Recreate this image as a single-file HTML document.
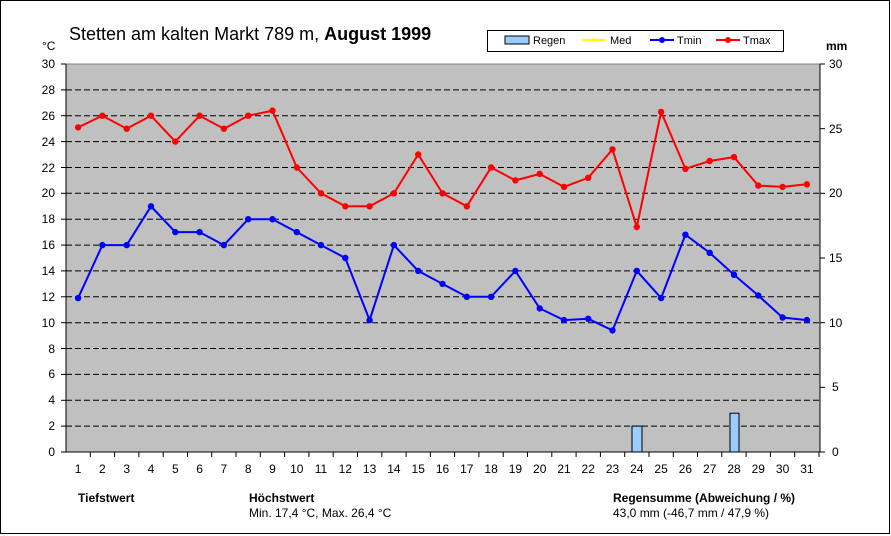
<!DOCTYPE html>
<html><head><meta charset="utf-8"><style>
body{margin:0;background:#fff}
svg{display:block;font-family:"Liberation Sans",Arial,sans-serif}
</style></head><body>
<svg width="891" height="536" viewBox="0 0 891 536" xmlns="http://www.w3.org/2000/svg">
<rect x="0.5" y="0.5" width="889" height="533" fill="#fff" stroke="#000"/>
<rect x="66" y="64" width="754" height="388" fill="#c0c0c0" stroke="#808080"/>
<g stroke="#000" stroke-dasharray="6,3" stroke-width="1">
<line x1="66" x2="820" y1="89.9" y2="89.9"/><line x1="66" x2="820" y1="115.7" y2="115.7"/>
<line x1="66" x2="820" y1="141.6" y2="141.6"/><line x1="66" x2="820" y1="167.5" y2="167.5"/>
<line x1="66" x2="820" y1="193.3" y2="193.3"/><line x1="66" x2="820" y1="219.2" y2="219.2"/>
<line x1="66" x2="820" y1="245.1" y2="245.1"/><line x1="66" x2="820" y1="270.9" y2="270.9"/>
<line x1="66" x2="820" y1="296.8" y2="296.8"/><line x1="66" x2="820" y1="322.7" y2="322.7"/>
<line x1="66" x2="820" y1="348.5" y2="348.5"/><line x1="66" x2="820" y1="374.4" y2="374.4"/>
<line x1="66" x2="820" y1="400.3" y2="400.3"/><line x1="66" x2="820" y1="426.1" y2="426.1"/>
</g>
<g stroke="#000"><line x1="66" y1="64" x2="66" y2="452"/><line x1="820" y1="64" x2="820" y2="452"/><line x1="66" y1="452" x2="820" y2="452"/></g>
<g stroke="#000">
<line x1="61" x2="66" y1="64" y2="64"/><line x1="61" x2="66" y1="89.9" y2="89.9"/><line x1="61" x2="66" y1="115.7" y2="115.7"/><line x1="61" x2="66" y1="141.6" y2="141.6"/><line x1="61" x2="66" y1="167.5" y2="167.5"/><line x1="61" x2="66" y1="193.3" y2="193.3"/><line x1="61" x2="66" y1="219.2" y2="219.2"/><line x1="61" x2="66" y1="245.1" y2="245.1"/><line x1="61" x2="66" y1="270.9" y2="270.9"/><line x1="61" x2="66" y1="296.8" y2="296.8"/><line x1="61" x2="66" y1="322.7" y2="322.7"/><line x1="61" x2="66" y1="348.5" y2="348.5"/><line x1="61" x2="66" y1="374.4" y2="374.4"/><line x1="61" x2="66" y1="400.3" y2="400.3"/><line x1="61" x2="66" y1="426.1" y2="426.1"/><line x1="61" x2="66" y1="452" y2="452"/>
<line x1="820" x2="825" y1="64" y2="64"/><line x1="820" x2="825" y1="128.7" y2="128.7"/><line x1="820" x2="825" y1="193.3" y2="193.3"/><line x1="820" x2="825" y1="258" y2="258"/><line x1="820" x2="825" y1="322.7" y2="322.7"/><line x1="820" x2="825" y1="387.3" y2="387.3"/><line x1="820" x2="825" y1="452" y2="452"/>
</g>
<g stroke="#000">
<line x1="90.3" x2="90.3" y1="452" y2="457"/><line x1="114.6" x2="114.6" y1="452" y2="457"/><line x1="138.9" x2="138.9" y1="452" y2="457"/><line x1="163.2" x2="163.2" y1="452" y2="457"/><line x1="187.5" x2="187.5" y1="452" y2="457"/><line x1="211.7" x2="211.7" y1="452" y2="457"/><line x1="236" x2="236" y1="452" y2="457"/><line x1="260.3" x2="260.3" y1="452" y2="457"/><line x1="284.6" x2="284.6" y1="452" y2="457"/><line x1="308.9" x2="308.9" y1="452" y2="457"/><line x1="333.2" x2="333.2" y1="452" y2="457"/><line x1="357.5" x2="357.5" y1="452" y2="457"/><line x1="381.8" x2="381.8" y1="452" y2="457"/><line x1="406.1" x2="406.1" y1="452" y2="457"/><line x1="430.4" x2="430.4" y1="452" y2="457"/><line x1="454.6" x2="454.6" y1="452" y2="457"/><line x1="478.9" x2="478.9" y1="452" y2="457"/><line x1="503.2" x2="503.2" y1="452" y2="457"/><line x1="527.5" x2="527.5" y1="452" y2="457"/><line x1="551.8" x2="551.8" y1="452" y2="457"/><line x1="576.1" x2="576.1" y1="452" y2="457"/><line x1="600.4" x2="600.4" y1="452" y2="457"/><line x1="624.7" x2="624.7" y1="452" y2="457"/><line x1="649" x2="649" y1="452" y2="457"/><line x1="673.3" x2="673.3" y1="452" y2="457"/><line x1="697.5" x2="697.5" y1="452" y2="457"/><line x1="721.8" x2="721.8" y1="452" y2="457"/><line x1="746.1" x2="746.1" y1="452" y2="457"/><line x1="770.4" x2="770.4" y1="452" y2="457"/><line x1="794.7" x2="794.7" y1="452" y2="457"/><line x1="819" x2="819" y1="452" y2="457"/>
</g>
<rect x="632" y="426.1" width="10" height="25.9" fill="#99ccff" stroke="#000"/>
<rect x="730" y="413.2" width="9" height="38.8" fill="#99ccff" stroke="#000"/>
<g font-size="12" fill="#000" text-anchor="end">
<text x="55" y="68">30</text><text x="55" y="94">28</text><text x="55" y="120">26</text><text x="55" y="146">24</text><text x="55" y="172">22</text><text x="55" y="197">20</text><text x="55" y="223">18</text><text x="55" y="249">16</text><text x="55" y="275">14</text><text x="55" y="301">12</text><text x="55" y="327">10</text><text x="55" y="353">8</text><text x="55" y="378">6</text><text x="55" y="404">4</text><text x="55" y="430">2</text><text x="55" y="456">0</text>
</g>
<g font-size="12" fill="#000">
<text x="829" y="68">30</text><text x="829" y="133">25</text><text x="829" y="197">20</text><text x="829" y="262">15</text><text x="829" y="327">10</text><text x="832" y="391">5</text><text x="832" y="456">0</text>
</g>
<g font-size="12" fill="#000" text-anchor="middle">
<text x="78.1" y="473">1</text><text x="102.4" y="473">2</text><text x="126.7" y="473">3</text><text x="151" y="473">4</text><text x="175.3" y="473">5</text><text x="199.6" y="473">6</text><text x="223.9" y="473">7</text><text x="248.2" y="473">8</text><text x="272.5" y="473">9</text><text x="296.8" y="473">10</text><text x="321" y="473">11</text><text x="345.3" y="473">12</text><text x="369.6" y="473">13</text><text x="393.9" y="473">14</text><text x="418.2" y="473">15</text><text x="442.5" y="473">16</text><text x="466.8" y="473">17</text><text x="491.1" y="473">18</text><text x="515.4" y="473">19</text><text x="539.7" y="473">20</text><text x="564" y="473">21</text><text x="588.2" y="473">22</text><text x="612.5" y="473">23</text><text x="636.8" y="473">24</text><text x="661.1" y="473">25</text><text x="685.4" y="473">26</text><text x="709.7" y="473">27</text><text x="734" y="473">28</text><text x="758.3" y="473">29</text><text x="782.6" y="473">30</text><text x="806.9" y="473">31</text>
</g>
<polyline fill="none" stroke="#ff0000" stroke-width="2" points="78.1,127.4 102.4,115.7 126.7,128.7 151,115.7 175.3,141.6 199.6,115.7 223.9,128.7 248.2,115.7 272.5,110.6 296.8,167.5 321,193.3 345.3,206.3 369.6,206.3 393.9,193.3 418.2,154.5 442.5,193.3 466.8,206.3 491.1,167.5 515.4,180.4 539.7,173.9 564,186.9 588.2,177.8 612.5,149.4 636.8,227 661.1,111.9 685.4,168.8 709.7,161 734,157.1 758.3,185.6 782.6,186.9 806.9,184.3"/>
<g fill="#ff0000">
<circle cx="78.1" cy="127.4" r="3.2"/><circle cx="102.4" cy="115.7" r="3.2"/><circle cx="126.7" cy="128.7" r="3.2"/><circle cx="151" cy="115.7" r="3.2"/><circle cx="175.3" cy="141.6" r="3.2"/><circle cx="199.6" cy="115.7" r="3.2"/><circle cx="223.9" cy="128.7" r="3.2"/><circle cx="248.2" cy="115.7" r="3.2"/><circle cx="272.5" cy="110.6" r="3.2"/><circle cx="296.8" cy="167.5" r="3.2"/><circle cx="321" cy="193.3" r="3.2"/><circle cx="345.3" cy="206.3" r="3.2"/><circle cx="369.6" cy="206.3" r="3.2"/><circle cx="393.9" cy="193.3" r="3.2"/><circle cx="418.2" cy="154.5" r="3.2"/><circle cx="442.5" cy="193.3" r="3.2"/><circle cx="466.8" cy="206.3" r="3.2"/><circle cx="491.1" cy="167.5" r="3.2"/><circle cx="515.4" cy="180.4" r="3.2"/><circle cx="539.7" cy="173.9" r="3.2"/><circle cx="564" cy="186.9" r="3.2"/><circle cx="588.2" cy="177.8" r="3.2"/><circle cx="612.5" cy="149.4" r="3.2"/><circle cx="636.8" cy="227" r="3.2"/><circle cx="661.1" cy="111.9" r="3.2"/><circle cx="685.4" cy="168.8" r="3.2"/><circle cx="709.7" cy="161" r="3.2"/><circle cx="734" cy="157.1" r="3.2"/><circle cx="758.3" cy="185.6" r="3.2"/><circle cx="782.6" cy="186.9" r="3.2"/><circle cx="806.9" cy="184.3" r="3.2"/>
</g>
<polyline fill="none" stroke="#0000ff" stroke-width="2" points="78.1,298.1 102.4,245.1 126.7,245.1 151,206.3 175.3,232.1 199.6,232.1 223.9,245.1 248.2,219.2 272.5,219.2 296.8,232.1 321,245.1 345.3,258 369.6,320.1 393.9,245.1 418.2,270.9 442.5,283.9 466.8,296.8 491.1,296.8 515.4,270.9 539.7,308.4 564,320.1 588.2,318.8 612.5,330.4 636.8,270.9 661.1,298.1 685.4,234.7 709.7,252.8 734,274.8 758.3,295.5 782.6,317.5 806.9,320.1"/>
<g fill="#0000ff">
<circle cx="78.1" cy="298.1" r="3.2"/><circle cx="102.4" cy="245.1" r="3.2"/><circle cx="126.7" cy="245.1" r="3.2"/><circle cx="151" cy="206.3" r="3.2"/><circle cx="175.3" cy="232.1" r="3.2"/><circle cx="199.6" cy="232.1" r="3.2"/><circle cx="223.9" cy="245.1" r="3.2"/><circle cx="248.2" cy="219.2" r="3.2"/><circle cx="272.5" cy="219.2" r="3.2"/><circle cx="296.8" cy="232.1" r="3.2"/><circle cx="321" cy="245.1" r="3.2"/><circle cx="345.3" cy="258" r="3.2"/><circle cx="369.6" cy="320.1" r="3.2"/><circle cx="393.9" cy="245.1" r="3.2"/><circle cx="418.2" cy="270.9" r="3.2"/><circle cx="442.5" cy="283.9" r="3.2"/><circle cx="466.8" cy="296.8" r="3.2"/><circle cx="491.1" cy="296.8" r="3.2"/><circle cx="515.4" cy="270.9" r="3.2"/><circle cx="539.7" cy="308.4" r="3.2"/><circle cx="564" cy="320.1" r="3.2"/><circle cx="588.2" cy="318.8" r="3.2"/><circle cx="612.5" cy="330.4" r="3.2"/><circle cx="636.8" cy="270.9" r="3.2"/><circle cx="661.1" cy="298.1" r="3.2"/><circle cx="685.4" cy="234.7" r="3.2"/><circle cx="709.7" cy="252.8" r="3.2"/><circle cx="734" cy="274.8" r="3.2"/><circle cx="758.3" cy="295.5" r="3.2"/><circle cx="782.6" cy="317.5" r="3.2"/><circle cx="806.9" cy="320.1" r="3.2"/>
</g>
<text x="69" y="40" font-size="18" fill="#000">Stetten am kalten Markt  789 m, <tspan font-weight="bold">August 1999</tspan></text>
<text x="42" y="50" font-size="12" fill="#000">°C</text>
<text x="826" y="50" font-size="12" font-weight="bold" fill="#000">mm</text>
<rect x="487.5" y="30.5" width="296" height="21" fill="#fff" stroke="#000"/>
<rect x="505" y="36" width="24" height="8" fill="#99ccff" stroke="#000"/>
<text x="533" y="44" font-size="11">Regen</text>
<line x1="582" x2="606" y1="40" y2="40" stroke="#ffff00" stroke-width="2"/><circle cx="594" cy="40" r="2" fill="#ffff00"/>
<text x="610" y="44" font-size="11">Med</text>
<line x1="650" x2="674" y1="40" y2="40" stroke="#0000ff" stroke-width="2"/><circle cx="662" cy="40" r="3" fill="#0000ff"/>
<text x="677" y="44" font-size="11">Tmin</text>
<line x1="716" x2="740" y1="40" y2="40" stroke="#ff0000" stroke-width="2"/><circle cx="728" cy="40" r="3" fill="#ff0000"/>
<text x="743" y="44" font-size="11">Tmax</text>
<g font-size="12" fill="#000">
<text x="78" y="502" font-weight="bold">Tiefstwert</text>
<text x="249" y="502" font-weight="bold">Höchstwert</text>
<text x="249" y="517">Min. 17,4 °C, Max. 26,4 °C</text>
<text x="613" y="502" font-weight="bold">Regensumme (Abweichung / %)</text>
<text x="613" y="517">43,0 mm (-46,7 mm / 47,9 %)</text>
</g>
</svg>
</body></html>
